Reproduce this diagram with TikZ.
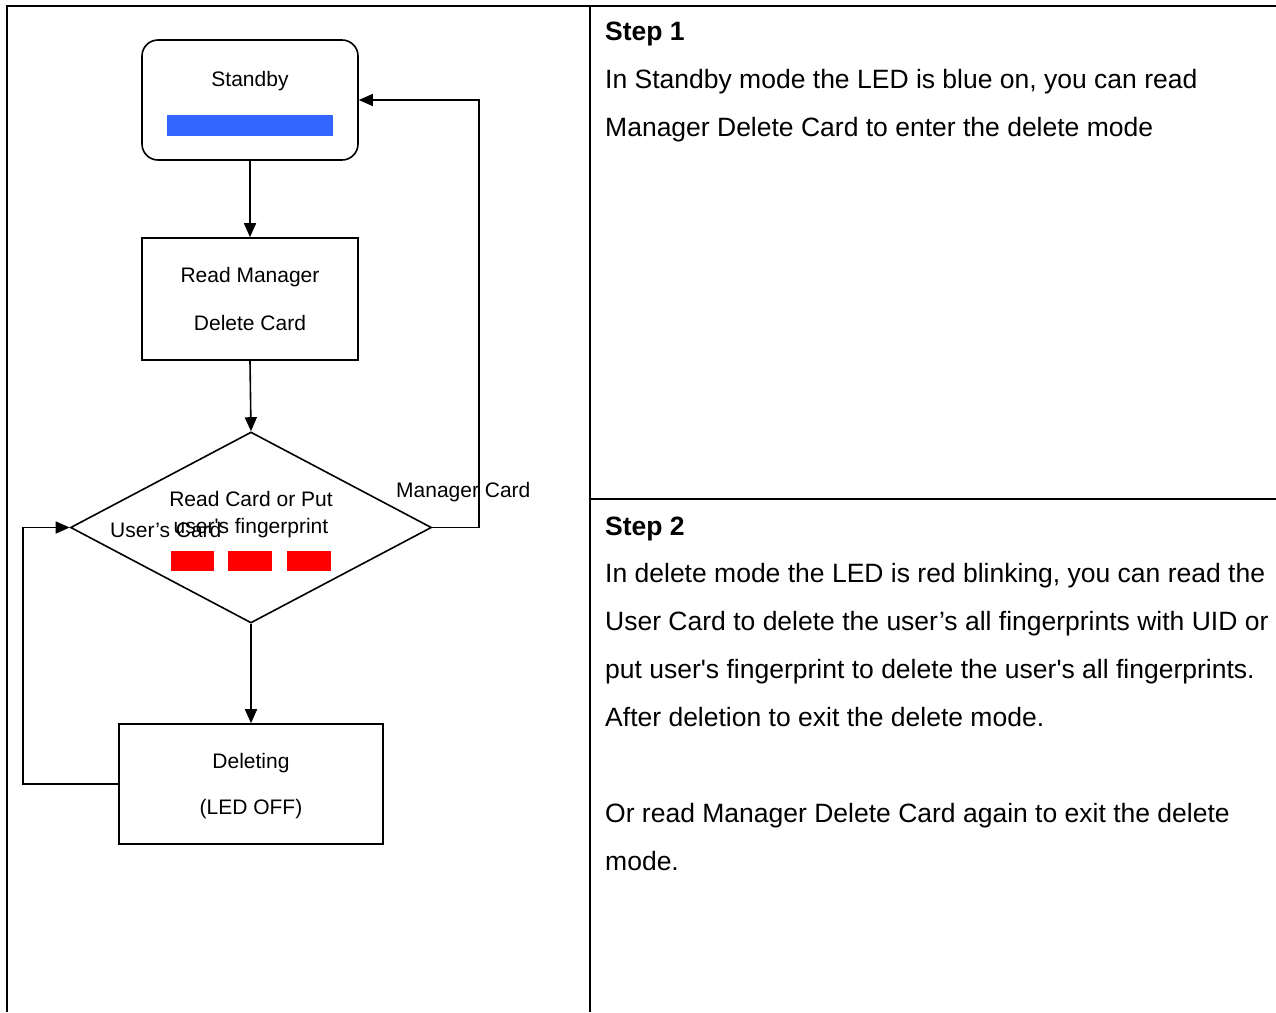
\documentclass[tikz,border=0pt]{standalone}
\usepackage{fontspec}
\setmainfont{Liberation Sans}
\usetikzlibrary{shapes.geometric,arrows.meta}
\definecolor{ledblue}{RGB}{51,102,255}
\definecolor{ledred}{RGB}{255,0,0}
\newcommand{\sq}{\textquotesingle}
\begin{document}
\begin{tikzpicture}[x=1pt,y=-1pt,
  flow/.style={draw,line width=1.6pt,inner sep=0pt},
  arr/.style={line width=1.6pt,-{Triangle[length=14pt,width=12pt]}},
  ftxt/.style={anchor=base,inner sep=0pt,font=\fontsize{21}{21}\selectfont},
  rtxt/.style={anchor=base west,inner sep=0pt,font=\fontsize{26.5}{26.5}\selectfont},
  htxt/.style={anchor=base west,inner sep=0pt,font=\fontsize{26.5}{26.5}\selectfont\bfseries},
  led/.style={inner sep=0pt,minimum height=20pt}]
\useasboundingbox (0,0) rectangle (1276,1012);
% table
\draw[line width=2pt] (7,1012) -- (7,6) -- (1276,6);
\draw[line width=2pt] (590,6) -- (590,1012);
\draw[line width=2pt] (590,499) -- (1276,499);
% flowchart nodes
\node[flow,rounded corners=16pt,minimum width=216pt,minimum height=120pt] (standby) at (250,100) {};
\node[fill=ledblue,inner sep=0pt,minimum width=166pt,minimum height=21pt] (bluebar) at (250,125.5) {};
\node[ftxt] (tstandby) at (250,86) {Standby};
\node[flow,minimum width=216pt,minimum height=122pt] (readmgr) at (250,299) {};
\node[ftxt] (trm1) at (250,282) {Read Manager};
\node[ftxt] (trm2) at (250,330) {Delete Card};
\node[flow,diamond,minimum width=361pt,minimum height=191pt] (dia) at (251,527.5) {};
\node[ftxt] (td1) at (251,506) {Read Card or Put};
\node[ftxt] (td2) at (251,533.5) {user\sq s fingerprint};
\node[led,fill=ledred,minimum width=43pt] (r1) at (192.5,561) {};
\node[led,fill=ledred,minimum width=44pt] (r2) at (250,561) {};
\node[led,fill=ledred,minimum width=44pt] (r3) at (309,561) {};
\node[flow,minimum width=264pt,minimum height=120pt] (del) at (251,784) {};
\node[ftxt] (tdel1) at (251,768) {Deleting};
\node[ftxt] (tdel2) at (251,814) {(LED OFF)};
% labels
\node[ftxt,anchor=base west] (lmgr) at (396,497) {Manager Card};
\node[ftxt,anchor=base west] (luser) at (110,537) {User’s Card};
% connectors
\coordinate (rt) at (479,100);
\coordinate (lf) at (23,784);
\draw[arr] (standby.south) -- (readmgr.north);
\draw[arr] (readmgr.south) -- (dia.north);
\draw[arr] (dia.south) -- (del.north);
\draw[arr] (dia.east) -| (rt) -- (standby.east);
\draw[arr] (del.west) -- (lf) |- (dia.west);
% right column text
\node[htxt] (s1) at (605,40) {Step 1};
\node[rtxt] (s1a) at (605,88) {In Standby mode the LED is blue on, you can read};
\node[rtxt] (s1b) at (605,136) {Manager Delete Card to enter the delete mode};
\node[htxt] (s2) at (605,535) {Step 2};
\node[rtxt] (s2a) at (605,582) {In delete mode the LED is red blinking, you can read the};
\node[rtxt] (s2b) at (605,630) {User Card to delete the user’s all fingerprints with UID or};
\node[rtxt] (s2c) at (605,678) {put user\sq s fingerprint to delete the user\sq s all fingerprints.};
\node[rtxt] (s2d) at (605,726) {After deletion to exit the delete mode.};
\node[rtxt] (s2e) at (605,822) {Or read Manager Delete Card again to exit the delete};
\node[rtxt] (s2f) at (605,870) {mode.};
\end{tikzpicture}
\end{document}
